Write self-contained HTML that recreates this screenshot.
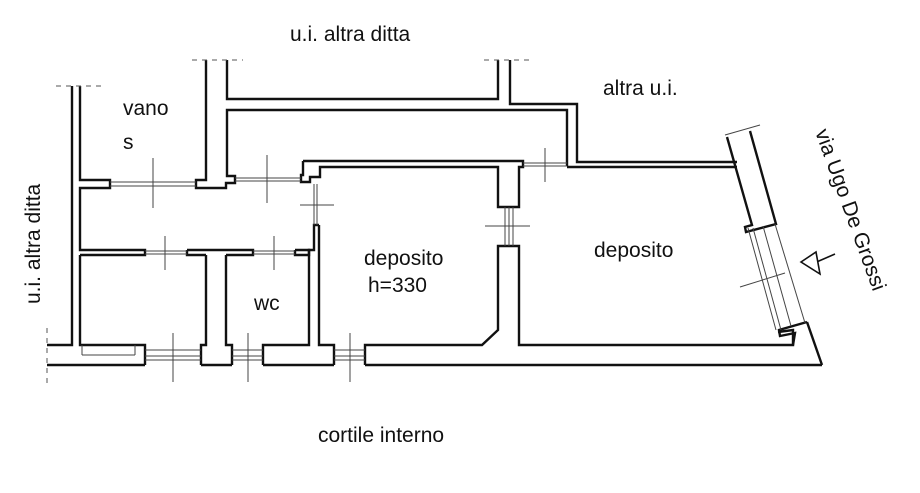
<!DOCTYPE html>
<html><head><meta charset="utf-8">
<style>
html,body{margin:0;padding:0;background:#fff;}
svg{display:block;}
text{font-family:"Liberation Sans",Arial,sans-serif;fill:#111;}
</style></head>
<body>
<svg width="920" height="493" viewBox="0 0 920 493" xmlns="http://www.w3.org/2000/svg">
<g fill="none" stroke="#111" stroke-width="2.4" stroke-linejoin="miter">
<polyline points="72,86 72,345 47,345"/>
<line x1="47" y1="365" x2="145" y2="365"/>
<line x1="201" y1="365" x2="232" y2="365"/>
<line x1="263" y1="365" x2="334" y2="365"/>
<line x1="365" y1="365" x2="822" y2="365"/>
<polyline points="80,255 80,345 145,345 145,365"/>
<polyline points="201,365 201,345 206,345 206,255"/>
<polyline points="226,255 226,345 232,345 232,365"/>
<polyline points="263,365 263,345 309,345 309,255"/>
<polyline points="319,225 319,345 334,345 334,365"/>
<polyline points="365,365 365,345 482,345 498,330 498,246 519,246 519,345 793,345 793,330 778,332"/>
<polyline points="80,86 80,180 110,180 110,188 80,188 80,250 145,250 145,255 80,255"/>
<polyline points="206,60 206,180 196,180 196,188 226,188 226,183 235,183 235,176 227,176 227,110 567,110 567,166"/>
<polyline points="227,60 227,99 498,99 498,60"/>
<polyline points="510,60 510,104 577,104 577,162 737,162"/>
<line x1="567" y1="167" x2="737" y2="167"/>
<polyline points="187,250 253,250 253,255 226,255"/>
<polyline points="206,255 187,255 187,250"/>
<polyline points="295,250 309,250 309,255 295,255 295,250"/>
<polyline points="309,255 309,250 314,250 314,225 319,225"/>
<polyline points="303,161 523,161 523,167 519,167 519,207 498,207 498,167 320,167 320,177 310,177 310,182 301,182 301,175 303,175 303,161"/>
<polyline points="727,137 752,225 745,227 746,232 776,224 750,131"/>
<polyline points="807,322 779,330 780,336 795,333 793,345"/>
<line x1="807" y1="322" x2="822" y2="365"/>
</g>
<g stroke="#444" stroke-width="1" fill="none">
<line x1="110" y1="182" x2="196" y2="182"/><line x1="110" y1="186" x2="196" y2="186"/>
<line x1="153" y1="158" x2="153" y2="208"/>
<line x1="235" y1="178" x2="301" y2="178"/><line x1="235" y1="181" x2="301" y2="181"/>
<line x1="267" y1="155" x2="267" y2="203"/>
<line x1="314" y1="184" x2="314" y2="225"/><line x1="317" y1="184" x2="317" y2="225"/>
<line x1="300" y1="205" x2="334" y2="205"/>
<line x1="145" y1="251" x2="187" y2="251"/><line x1="145" y1="254" x2="187" y2="254"/>
<line x1="165" y1="236" x2="165" y2="270"/>
<line x1="253" y1="251" x2="295" y2="251"/><line x1="253" y1="254" x2="295" y2="254"/>
<line x1="274" y1="236" x2="274" y2="270"/>
<line x1="82" y1="345" x2="82" y2="355"/><line x1="82" y1="355" x2="135" y2="355"/><line x1="135" y1="355" x2="135" y2="345"/>
<line x1="145" y1="350" x2="201" y2="350"/><line x1="145" y1="356" x2="201" y2="356"/><line x1="145" y1="360" x2="201" y2="360"/>
<line x1="173" y1="333" x2="173" y2="382"/>
<line x1="232" y1="350" x2="263" y2="350"/><line x1="232" y1="356" x2="263" y2="356"/><line x1="232" y1="360" x2="263" y2="360"/>
<line x1="248" y1="333" x2="248" y2="382"/>
<line x1="334" y1="350" x2="365" y2="350"/><line x1="334" y1="356" x2="365" y2="356"/><line x1="334" y1="360" x2="365" y2="360"/>
<line x1="350" y1="333" x2="350" y2="382"/>
<line x1="505" y1="207" x2="505" y2="246"/><line x1="509" y1="207" x2="509" y2="246"/><line x1="513" y1="207" x2="513" y2="246"/>
<line x1="485" y1="226" x2="530" y2="226"/>
<line x1="523" y1="163" x2="567" y2="163"/><line x1="523" y1="166" x2="567" y2="166"/>
<line x1="545" y1="148" x2="545" y2="182"/>
<line x1="748" y1="228" x2="776" y2="330"/><line x1="753" y1="228" x2="781" y2="330"/>
<line x1="763" y1="226" x2="791" y2="326"/><line x1="775" y1="224" x2="805" y2="323"/>
<line x1="740" y1="287" x2="785" y2="273"/>
<line x1="725" y1="135" x2="760" y2="125"/>
</g>
<g stroke="#555" stroke-width="1" stroke-dasharray="5,5">
<line x1="56" y1="86" x2="106" y2="86"/>
<line x1="192" y1="60" x2="243" y2="60"/>
<line x1="484" y1="60" x2="532" y2="60"/>
<line x1="47" y1="328" x2="47" y2="385"/>
</g>
<g stroke="#111" stroke-width="1.6" fill="none">
<line x1="835" y1="254" x2="812" y2="264"/>
<polygon points="801,262 816,252 820,274" fill="#fff"/>
</g>
<g font-size="21">
<text x="290" y="41">u.i. altra ditta</text>
<text x="603" y="95">altra u.i.</text>
<text x="123" y="115">vano</text>
<text x="123" y="149">s</text>
<text x="364" y="265">deposito</text>
<text x="368" y="292">h=330</text>
<text x="594" y="257">deposito</text>
<text x="254" y="310">wc</text>
<text x="318" y="442">cortile interno</text>
<text x="0" y="0" transform="translate(40,304) rotate(-90)">u.i. altra ditta</text>
<text x="0" y="0" transform="translate(815,132) rotate(70)">via Ugo De Grossi</text>
</g>
</svg>
</body></html>
